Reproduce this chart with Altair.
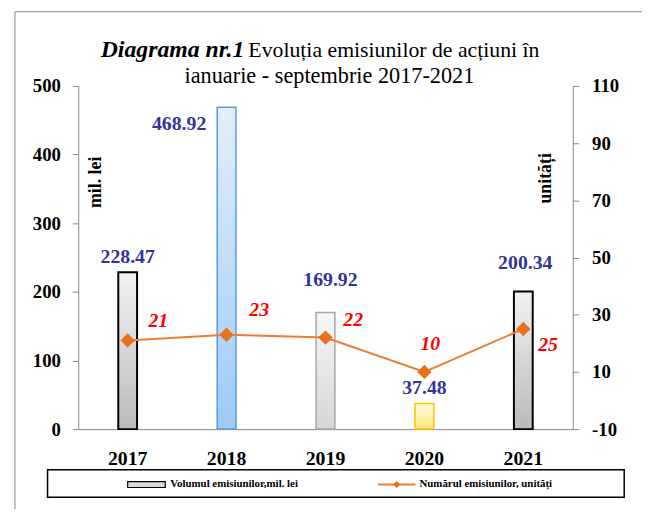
import altair as alt
import pandas as pd

years = ["2017", "2018", "2019", "2020", "2021"]
volumes = [228.47, 468.92, 169.92, 37.48, 200.34]
counts = [21, 23, 22, 10, 25]

df = pd.DataFrame({"year": years, "vol": volumes, "cnt": counts})

FONT = "Liberation Serif"
GRAY = "#868686"

x_enc = alt.X("year:N", sort=years, title=None,
              scale=alt.Scale(paddingInner=0, paddingOuter=0),
              axis=alt.Axis(labelAngle=0, ticks=False, labelPadding=20,
                            labelFont=FONT, labelFontSize=20, labelFontWeight="bold",
                            labelColor="black", domainColor=GRAY, domainWidth=1))

y_left = alt.Y("vol:Q", scale=alt.Scale(domain=[0, 500], nice=False),
               axis=alt.Axis(values=[0, 100, 200, 300, 400, 500], orient="left",
                             title="mil. lei", titleAngle=270, titleX=18, titleY=97,
                             titleAlign="center", titleBaseline="middle",
                             titleFont=FONT, titleFontSize=18, titleFontWeight="bold",
                             titleColor="black",
                             labelFont=FONT, labelFontSize=19, labelFontWeight="bold",
                             labelColor="black", tickSize=6, tickColor=GRAY,
                             domainColor=GRAY, labelPadding=12, grid=False))

y_right = alt.Y("cnt:Q", scale=alt.Scale(domain=[-10, 110], nice=False, zero=False),
                axis=alt.Axis(values=[-10, 10, 30, 50, 70, 90, 110], orient="right",
                              labelExpr="replace(datum.label, '\u2212', '-')",
                              title="unități", titleAngle=270, titleX=-27, titleY=93,
                              titleAlign="center", titleBaseline="middle",
                              titleFont=FONT, titleFontSize=18, titleFontWeight="bold",
                              titleColor="black",
                              labelFont=FONT, labelFontSize=19, labelFontWeight="bold",
                              labelColor="black", tickSize=6, tickColor=GRAY,
                              domainColor=GRAY, labelPadding=13, grid=False))


def grad(top, bottom):
    return alt.Gradient(gradient="linear", x1=0, x2=0, y1=0, y2=1,
                        stops=[alt.GradientStop(color=top, offset=0),
                               alt.GradientStop(color=bottom, offset=1)])


bar_styles = {
    "2017": (grad("#f2f2f2", "#bababa"), "#000000", 2),
    "2018": (grad("#e2efff", "#9ccbf5"), "#5b9bd5", 1.5),
    "2019": (grad("#f7f7f7", "#d6d6d6"), "#a6a6a6", 1.5),
    "2020": (grad("#fffbe0", "#ffe680"), "#ffc000", 1.5),
    "2021": (grad("#f2f2f2", "#bababa"), "#000000", 2),
}

bars = []
for yr in years:
    fill, stroke, sw = bar_styles[yr]
    bars.append(
        alt.Chart(df).transform_filter(alt.datum.year == yr)
        .mark_bar(size=19, fill=fill, stroke=stroke, strokeWidth=sw)
        .encode(x=x_enc, y=y_left)
    )

bar_label_offsets = {"2017": (0, -15), "2018": (-48, 17), "2019": (5, -33),
                     "2020": (0, -15), "2021": (2, -29)}
bar_labels = []
for yr in years:
    dx, dy = bar_label_offsets[yr]
    bar_labels.append(
        alt.Chart(df).transform_filter(alt.datum.year == yr)
        .mark_text(dx=dx, dy=dy, font=FONT, fontSize=20, fontWeight="bold",
                   color="#333399", baseline="middle", align="center")
        .encode(x=x_enc, y=y_left, text=alt.Text("vol:Q", format=".2f"))
    )

left_group = alt.layer(*bars, *bar_labels)

line = alt.Chart(df).mark_line(color="#ed7d31", strokeWidth=2).encode(x=x_enc, y=y_right)
pts = alt.Chart(df).mark_point(shape="diamond", filled=True, size=210, color="#e8711c",
                               opacity=1).encode(x=x_enc, y=y_right)

cnt_offsets = {"2017": (31, -20), "2018": (33, -25), "2019": (28, -18),
               "2020": (6, -28), "2021": (25, 16)}
cnt_labels = []
for yr in years:
    dx, dy = cnt_offsets[yr]
    cnt_labels.append(
        alt.Chart(df).transform_filter(alt.datum.year == yr)
        .mark_text(dx=dx, dy=dy, font=FONT, fontSize=20, fontWeight="bold",
                   fontStyle="italic", color="#ff0000", baseline="middle", align="center")
        .encode(x=x_enc, y=y_right, text=alt.Text("cnt:Q"))
    )

right_group = alt.layer(line, pts, *cnt_labels)

one = alt.Data(values=[{"a": 1}])

frame_top = alt.Chart(one).mark_rule(color=GRAY, strokeWidth=1).encode(
    x=alt.value(-64), x2=alt.value(620), y=alt.value(-75))
frame_left = alt.Chart(one).mark_rule(color=GRAY, strokeWidth=1).encode(
    x=alt.value(-64), y=alt.value(-75), y2=alt.value(480))

title1a = alt.Chart(one).mark_text(font=FONT, fontSize=24, fontWeight="bold",
                                   fontStyle="italic", align="right",
                                   baseline="alphabetic", color="black").encode(
    x=alt.value(168), y=alt.value(-29), text=alt.value("Diagrama nr.1"))
title1b = alt.Chart(one).mark_text(font=FONT, fontSize=22, align="left",
                                   baseline="alphabetic", color="black").encode(
    x=alt.value(172), y=alt.value(-29), text=alt.value("Evoluția emisiunilor de acțiuni în"))
title2 = alt.Chart(one).mark_text(font=FONT, fontSize=22.5, align="center",
                                  baseline="alphabetic", color="black").encode(
    x=alt.value(254), y=alt.value(-3), text=alt.value("ianuarie - septembrie 2017-2021"))

leg_box = alt.Chart(one).mark_rect(fill="white", stroke="black", strokeWidth=1.5).encode(
    x=alt.value(-31), x2=alt.value(552), y=alt.value(388), y2=alt.value(416))
leg_bar = alt.Chart(one).mark_rect(fill="#d9d9d9", stroke="black", strokeWidth=1.2).encode(
    x=alt.value(50), x2=alt.value(88), y=alt.value(400), y2=alt.value(406))
leg_bar_txt = alt.Chart(one).mark_text(font=FONT, fontSize=11, fontWeight="bold",
                                       align="left", baseline="middle", color="black").encode(
    x=alt.value(93), y=alt.value(403), text=alt.value("Volumul emisiunilor,mil. lei"))
leg_line = alt.Chart(one).mark_rule(color="#ed7d31", strokeWidth=2).encode(
    x=alt.value(303), x2=alt.value(341), y=alt.value(403))
leg_pt = alt.Chart(one).mark_point(shape="diamond", filled=True, size=50, color="#e8711c",
                                   opacity=1).encode(x=alt.value(322), y=alt.value(403))
leg_line_txt = alt.Chart(one).mark_text(font=FONT, fontSize=11, fontWeight="bold",
                                        align="left", baseline="middle", color="black").encode(
    x=alt.value(345), y=alt.value(403), text=alt.value("Numărul emisiunilor, unități"))

chart = alt.layer(
    frame_top, frame_left, left_group, right_group, title1a, title1b, title2,
    leg_box, leg_bar, leg_bar_txt, leg_line, leg_pt, leg_line_txt
).resolve_scale(y="independent").properties(
    width=500, height=347,
    autosize=alt.AutoSizeParams(type="none"),
    padding={"left": 71, "top": 76, "right": 70, "bottom": 78},
    background="white",
).configure_view(stroke=None)

chart.save("out.html", embed_options={"renderer": "svg", "actions": False})
